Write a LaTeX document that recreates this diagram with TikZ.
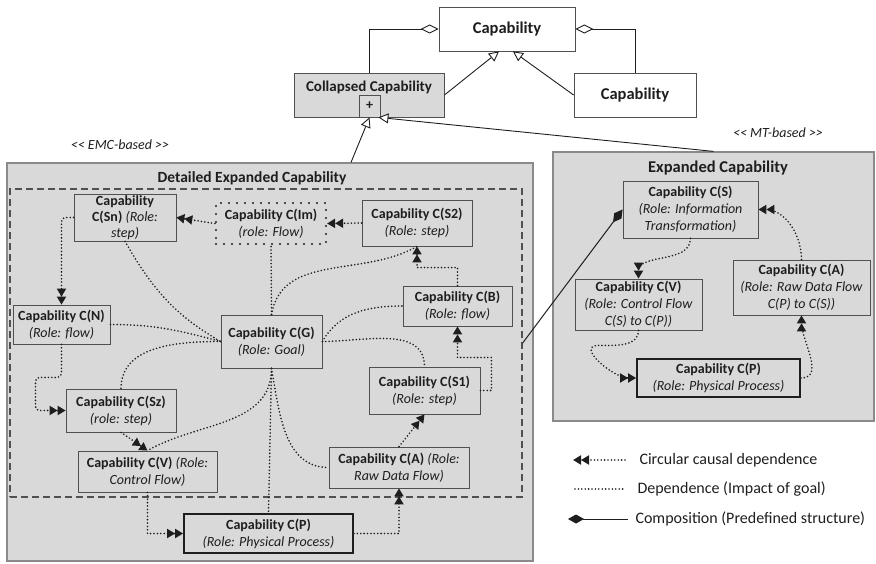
\documentclass[tikz,border=0pt]{standalone}
\usepackage{fontspec}
\setmainfont{Carlito}
\usepackage{tikz}
\usetikzlibrary{
    arrows.meta,
    calc,
    positioning
}
\definecolor{panelgray}{HTML}{D9D9D9}
\definecolor{linegray}{HTML}{505050}
\definecolor{edgegray}{HTML}{8A8A8A}
\definecolor{inkgray}{HTML}{1E1E1E}
\newcommand{\capbox}[7][]{
    \node[capnode, #1, minimum width={#5-#3}, minimum height={#4-#6}] (#2) at ({(#3+#5)/2}, {(#4+#6)/2}) {#7};
}
\newcommand{\cpt}[2]{\textbf{#1}\\\textit{#2}}

\begin{document}
\begin{tikzpicture}[x=1pt, y=1pt,
    font=\fontsize{14}{17}\selectfont, text=inkgray,
    capnode/.style={draw=linegray, line width=0.8pt, align=center, inner sep=0pt},
    panel/.style={fill=panelgray, draw=edgegray, line width=1.2pt},
    dashbox/.style={draw=linegray, line width=1.3pt, dash pattern=on 7pt off 4pt},
    flowbox/.style={draw=inkgray, line width=2.2pt, dash pattern=on 0pt off 8pt, line cap=round},
    heavy/.style={draw=inkgray, line width=1.8pt},
    causal/.style={draw=inkgray, line width=1.8pt, dash pattern=on 0pt off 3.4pt, line cap=round,
        -{Triangle[length=8pt, width=9pt]Triangle[length=8pt, width=9pt]}},
    depend/.style={draw=inkgray, line width=1.8pt, dash pattern=on 0pt off 3.4pt, line cap=round},
    general/.style={draw=inkgray, line width=0.9pt, -{Triangle[fill=white, length=10pt, width=10pt]}},
    aggr/.style={draw=inkgray, line width=0.9pt, {Diamond[fill=white, length=18pt, width=9pt]}-},
    compose/.style={draw=inkgray, line width=1pt, -{Diamond[length=16pt, width=9pt]}},
    title/.style={font=\fontsize{15.5}{18}\selectfont\bfseries},
    stereo/.style={font=\fontsize{14}{16}\selectfont\itshape},
    legend/.style={font=\fontsize{16}{18}\selectfont, anchor=west}]
    \useasboundingbox (0,0) rectangle (876,-564);
    \capbox[panel]{det}{7}{-163}{533}{-561}{}
    \capbox[panel]{exp}{553}{-152}{874}{-421}{}
    \capbox[dashbox]{inner}{10}{-189}{522}{-497}{}
    \node[title] (dettitle) at (252,-178) {Detailed Expanded Capability};
    \node[title, font=\fontsize{16.5}{18}\selectfont\bfseries] (exptitle) at (718,-168) {Expanded Capability};
    \capbox[fill=white]{cap}{439}{-7}{575}{-51}{\fontsize{16.5}{18}\selectfont\bfseries Capability}
    \capbox[fill=panelgray]{coll}{294}{-73}{444}{-117}{}
    \capbox[fill=white]{capb}{574}{-73}{696}{-117}{\fontsize{16.5}{18}\selectfont\bfseries Capability}
    \node[title, font=\fontsize{15}{18}\selectfont\bfseries] (colltitle) at (369,-87) {Collapsed Capability};
    \capbox{plus}{359}{-95}{380}{-117}{\textbf{+}}
    \node[stereo] (emc) at (120,-145) {<{}< EMC-based >{}>};
    \node[stereo] (mt) at (778,-133) {<{}< MT-based >{}>};
    \draw[aggr] (cap.west) -| (coll.north);
    \draw[aggr] (cap.east) -| (capb.north);
    \draw[general] (coll.east) -- ([xshift=-8pt]cap.south);
    \draw[general] (capb.west) -- ([xshift=6pt]cap.south);
    \draw[general] ([xshift=81pt]det.north) -- (plus.south);
    \draw[general] (exp.north) -- ([xshift=-2pt]plus.south east);
    \capbox{Sn}{74}{-194}{176}{-241}{\textbf{Capability}\\[-1pt]\textbf{C(Sn)} \textit{(Role:}\\[-1pt]\textit{step)}}
    \capbox[flowbox]{Im}{216}{-203}{326}{-244}{\cpt{Capability C(Im)}{(role: Flow)}}
    \capbox{S2}{362}{-200}{472}{-246}{\cpt{Capability C(S2)}{(Role: step)}}
    \capbox{N}{13}{-305}{110}{-344}{\cpt{Capability C(N)}{(Role: flow)}}
    \capbox{G}{221}{-315}{322}{-368}{\cpt{Capability C(G)}{(Role: Goal)}}
    \capbox{B}{403}{-286}{512}{-326}{\cpt{Capability C(B)}{(Role: flow)}}
    \capbox{S1}{369}{-367}{480}{-414}{\cpt{Capability C(S1)}{(Role: step)}}
    \capbox{Sz}{66}{-389}{176}{-432}{\cpt{Capability C(Sz)}{(role: step)}}
    \capbox{V}{78}{-451}{217}{-492}{\textbf{Capability C(V)} \textit{(Role:}\\\textit{Control Flow)}}
    \capbox{A}{329}{-447}{469}{-488}{\textbf{Capability C(A)} \textit{(Role:}\\\textit{Raw Data Flow)}}
    \capbox[heavy]{P}{184}{-514}{353}{-553}{\cpt{Capability C(P)}{(Role: Physical Process)}}
    \capbox{rS}{623}{-181}{758}{-238}{\textbf{Capability C(S)}\\\textit{(Role: Information}\\\textit{Transformation)}}
    \capbox{rV}{575}{-279}{702}{-330}{\textbf{Capability C(V)}\\\textit{(Role: Control Flow}\\\textit{C(S) to C(P))}}
    \capbox{rA}{733}{-260}{870}{-315}{\textbf{Capability C(A)}\\\textit{(Role: Raw Data Flow}\\\textit{C(P) to C(S))}}
    \capbox[heavy]{rP}{637}{-359}{800}{-397}{\cpt{Capability C(P)}{(Role: Physical Process)}}
    \draw[causal] (Im.west) -- (Sn.east);
    \draw[causal] (S2.west) -- (Im.east);
    \draw[causal] (B.north) -- ++(0,18) -| (S2.south);
    \draw[causal] (S1.east) -- ++(11,0) -- ++(0,33) -| (B.south);
    \draw[causal] (A.north) -- (S1.south);
    \draw[causal] (P.east) -| (A.south);
    \draw[causal] (V.south) |- (P.west);
    \draw[causal] (Sz.south) -- (V.north);
    \draw[causal, rounded corners=4pt] (N.south) -- ++(0,-33) -- ++(-26,0) |- (Sz.west);
    \draw[causal, rounded corners=4pt] (Sn.west) -| (N.north);
    \draw[depend] (N.east) to[out=0, in=165] (G.west);
    \draw[depend] (Sn.south) to[out=-60, in=150] (G.west);
    \draw[depend] (G.west) to[out=180, in=90] (Sz.north);
    \draw[depend] (G.north) -- (Im.south);
    \draw[depend] (G.north) to[out=80, in=-150] (S2.south);
    \draw[depend] (G.east) to[out=60, in=180] (B.west);
    \draw[depend] (G.east) to[out=0, in=90] (S1.north);
    \draw[depend] (G.south) -- (P.north);
    \draw[depend] (G.south) to[out=-90, in=30] (V.north);
    \draw[depend] (G.south) to[out=-80, in=180] (A.west);
    \draw[causal] (rS.south) to[out=-90, in=90] (rV.north);
    \draw[causal] (rV.south) to[out=-90, in=0] ++(-40,-15) to[out=180, in=180, looseness=1.2] (rP.west);
    \draw[causal] (rP.east) to[out=0, in=-90] (rA.south);
    \draw[causal] (rA.north) to[out=90, in=0] (rS.east);
    \draw[compose] (inner.east) -- (rS.west);
    \coordinate (l1a) at (573,-460);
    \coordinate (l1b) at (625,-460);
    \coordinate (l2a) at (575,-489);
    \coordinate (l2b) at (625,-489);
    \coordinate (l3a) at (568,-519);
    \coordinate (l3b) at (628,-519);
    \draw[causal] (l1b) -- (l1a);
    \draw[depend] (l2a) -- (l2b);
    \draw[compose] (l3b) -- (l3a);
    \node[legend] (l1) at (636,-460) {Circular causal dependence};
    \node[legend] (l2) at (634,-489) {Dependence (Impact of goal)};
    \node[legend] (l3) at (632,-519) {Composition (Predefined structure)};
\end{tikzpicture}
\end{document}
